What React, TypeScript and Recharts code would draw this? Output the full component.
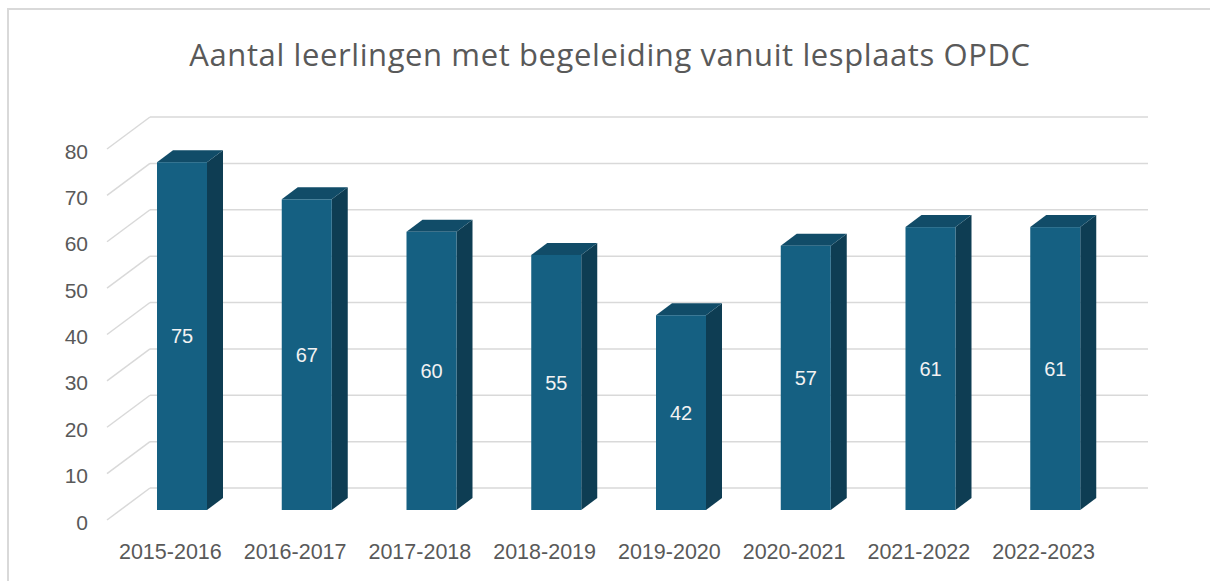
import { BarChart, Bar, XAxis, YAxis, CartesianGrid, LabelList } from "recharts";

const years = ["2015-2016", "2016-2017", "2017-2018", "2018-2019", "2019-2020", "2020-2021", "2021-2022", "2022-2023"];
const students = [75, 67, 60, 55, 42, 57, 61, 61];
const yTicks = [0, 10, 20, 30, 40, 50, 60, 70, 80];

const data = years.map((year, i) => ({ year, students: students[i] }));

const FRONT = "#156082";
const SIDE = "#0e3d53";
const TOP = "#114c68";
const GRID = "#d9d9d9";
const TEXT = "#595959";
const DX = 16;
const DY = -12;

// 3D column: front face, top and right side
function Column(props: any) {
  const { x, y, width, height } = props;
  if (height == null) return null;
  const b = y + height;
  const r = x + width;
  return (
    <g>
      <polygon points={`${r},${y} ${r + DX},${y + DY} ${r + DX},${b + DY} ${r},${b}`} fill={SIDE} />
      <polygon points={`${x},${y} ${x + DX},${y + DY} ${r + DX},${y + DY} ${r},${y}`} fill={TOP} />
      <rect x={x} y={y} width={width} height={height} fill={FRONT} />
    </g>
  );
}

// back wall gridline with the floor-side diagonal
function GridLine(props: any) {
  const { y1, x2 } = props;
  return (
    <g>
      <line x1={107} y1={y1 + 10} x2={150} y2={y1 - 22} stroke={GRID} strokeWidth={1.5} />
      <line x1={150} y1={y1 - 22} x2={x2 + 30} y2={y1 - 22} stroke={GRID} strokeWidth={1.5} />
    </g>
  );
}

function YTick(props: any) {
  const { y, payload } = props;
  return (
    <text x={88} y={y + 12} textAnchor="end" dominantBaseline="central" fill={TEXT} fontSize={21}>
      {payload.value}
    </text>
  );
}

function XTick(props: any) {
  const { x, payload } = props;
  return (
    <text x={x - 12} y={552} textAnchor="middle" dominantBaseline="central" fill={TEXT} fontSize={21.5}>
      {payload.value}
    </text>
  );
}

export default function App() {
  return (
    <div style={{ position: "relative", width: 1210, height: 581, background: "#fff", fontFamily: "'Liberation Sans', Arial, sans-serif" }}>
      <style>{"body{margin:0}"}</style>
      <div style={{ position: "absolute", left: 7, top: 8, width: 1210, height: 580, borderTop: `2px solid ${GRID}`, borderLeft: `2px solid ${GRID}` }} />
      <div style={{ position: "absolute", left: 0, width: 1220, top: 33, textAlign: "center", fontSize: 31, letterSpacing: 0.6, color: TEXT, fontFamily: "'Open Sans', sans-serif" }}>
        Aantal leerlingen met begeleiding vanuit lesplaats OPDC
      </div>
      <BarChart width={1210} height={581} data={data} margin={{ top: 139, right: 92, bottom: 31, left: 0 }} barSize={50}
        style={{ position: "absolute", left: 0, top: 0 }}>
        <CartesianGrid vertical={false} horizontal={(p: any) => <GridLine key={p.key ?? p.index} {...p} />} />
        <XAxis dataKey="year" axisLine={false} tickLine={false} height={40} tick={<XTick />} interval={0} />
        <YAxis domain={[0, 80]} ticks={yTicks} width={120} axisLine={false} tickLine={false} tick={<YTick />} />
        <Bar dataKey="students" shape={<Column />} isAnimationActive={false}>
          <LabelList dataKey="students" position="center" fill="#f2f2f2" fontSize={20} />
        </Bar>
      </BarChart>
    </div>
  );
}
